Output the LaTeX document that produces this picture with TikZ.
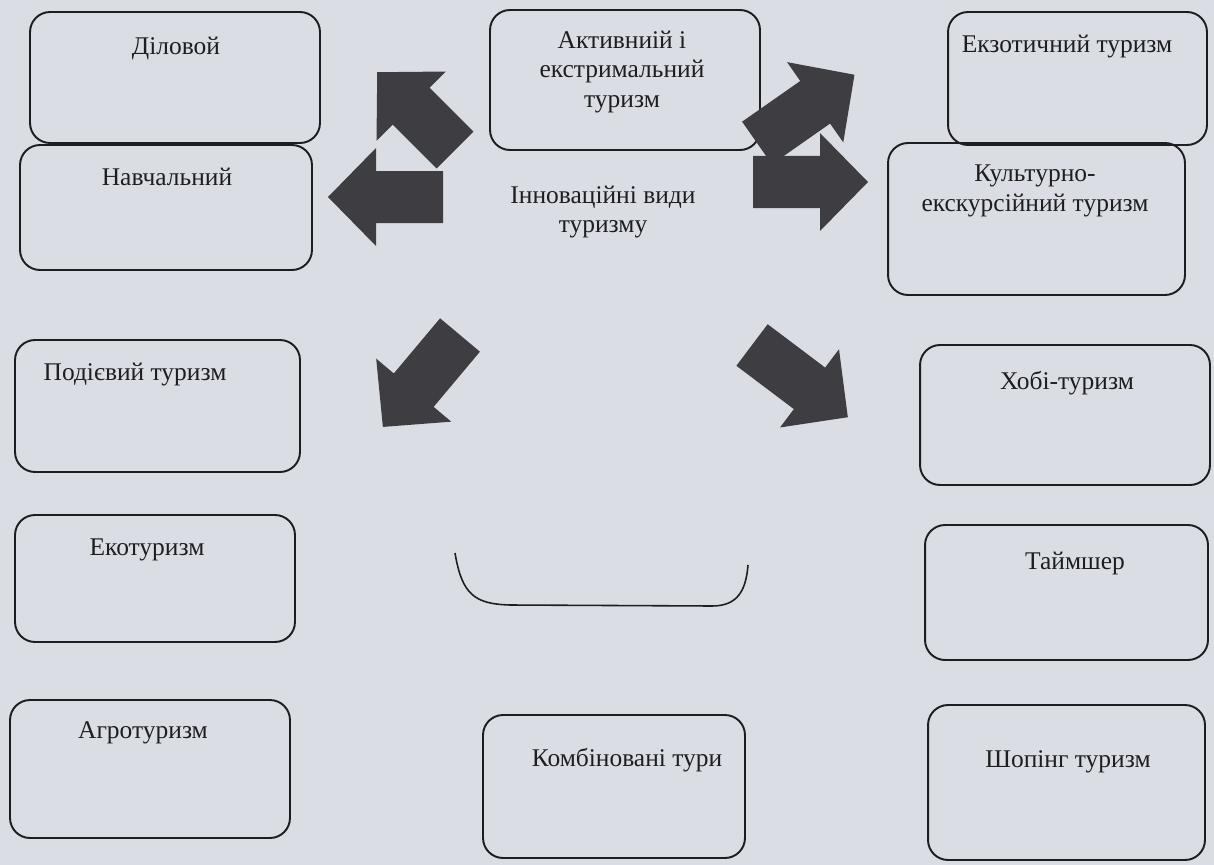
\documentclass[tikz,border=0pt]{standalone}
\usepackage{fontspec}
\setmainfont{Liberation Serif}
\usetikzlibrary{positioning}
\definecolor{paper}{RGB}{218,222,228}
\definecolor{ink}{RGB}{30,30,32}
\definecolor{arrowgray}{RGB}{62,62,66}
\tikzset{
  tbox/.style={rectangle,draw=ink,line width=1.1pt,rounded corners=0.4cm,inner sep=0pt},
  lbl/.style={font=\fontsize{14.5}{17}\selectfont,text=ink,align=center,inner sep=0pt},
  pics/blockarr/.style={code={
    \fill[arrowgray] (0,-26) -- ({#1-48},-26) -- ({#1-48},-49) -- (#1,0)
      -- ({#1-48},49) -- ({#1-48},26) -- (0,26) -- cycle;}}
}
\begin{document}
\begin{tikzpicture}[x=0.02cm,y=-0.02cm]
\useasboundingbox (0,0) rectangle (1214,865);
\fill[paper] (0,0) rectangle (1214,865);

% left column
\node[tbox,minimum width=5.8cm,minimum height=2.62cm] (dil) at (175,77.5) {};
\node[tbox,minimum width=5.84cm,minimum height=2.5cm] (nav) at (166,207.5) {};
\node[tbox,minimum width=5.7cm,minimum height=2.64cm] (pod) at (157.5,406) {};
\node[tbox,minimum width=5.6cm,minimum height=2.54cm] (eko) at (155,578.5) {};
\node[tbox,minimum width=5.6cm,minimum height=2.76cm] (agro) at (150,769) {};
\node[lbl] (dilT) at (176,48) {Діловой};
\node[lbl] (navT) at (167,177) {Навчальний};
\node[lbl] (podT) at (135,375) {Подієвий туризм};
\node[lbl] (ekoT) at (147,550) {Екотуризм};
\node[lbl] (agroT) at (143,733) {Агротуризм};

% middle
\node[tbox,minimum width=5.4cm,minimum height=2.8cm] (akt) at (625,80) {};
\node[lbl] (aktT) at (622,72) {Активниій і\\екстримальний\\туризм};
\node[lbl] (innov) at (603,212) {Інноваційні види\\туризму};
\draw[ink,line width=0.9pt] (455,553) .. controls (462,595) and (475,604) .. (510,605)
  -- (712,606) .. controls (738,606) and (746,590) .. (748,565);
\node[tbox,minimum width=5.24cm,minimum height=2.86cm] (komb) at (614,786.5) {};
\node[lbl] (kombT) at (627,760) {Комбіновані тури};

% right column
\node[tbox,minimum width=5.18cm,minimum height=2.66cm] (ekz) at (1077.5,78.5) {};
\node[tbox,minimum width=5.94cm,minimum height=3.04cm] (kult) at (1036.5,219) {};
\node[tbox,minimum width=5.8cm,minimum height=2.8cm] (hobi) at (1065,415) {};
\node[tbox,minimum width=5.66cm,minimum height=2.7cm] (taim) at (1066.5,592.5) {};
\node[tbox,minimum width=5.54cm,minimum height=3.1cm] (shop) at (1066.5,782.5) {};
\node[lbl] (ekzT) at (1067,47) {Екзотичний туризм};
\node[lbl] (kultT) at (1035,191) {Культурно-\\екскурсійний туризм};
\node[lbl] (hobiT) at (1067,383) {Хобі-туризм};
\node[lbl] (taimT) at (1075,563) {Таймшер};
\node[lbl] (shopT) at (1068,762) {Шопінг туризм};

% block arrows
\pic[rotate=135] at (455,150) {blockarr=110};
\pic[rotate=180] at (443,197) {blockarr=115};
\pic[rotate=35] at (757,143) {blockarr=119};
\pic at (753,182) {blockarr=115};
\pic[rotate=230] at (460,335) {blockarr=120};
\pic[rotate=-37] at (752,345) {blockarr=120};
\end{tikzpicture}
\end{document}
